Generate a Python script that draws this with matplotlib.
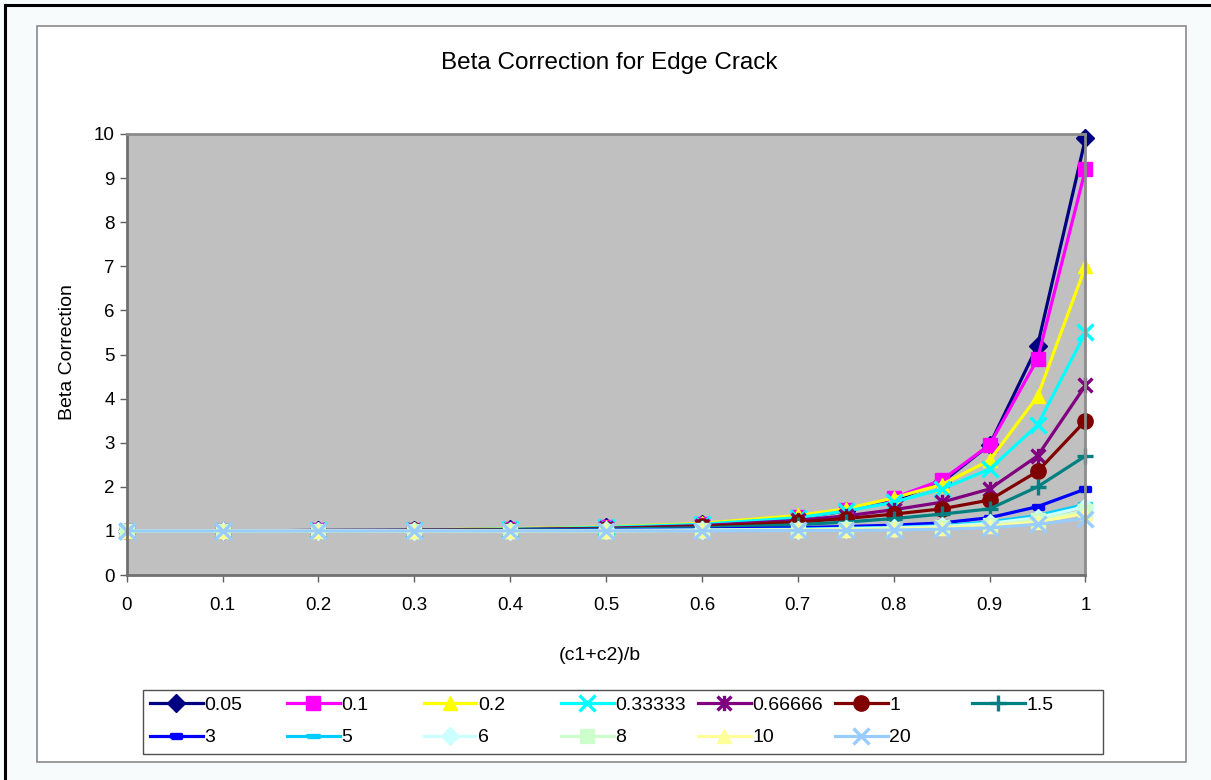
import matplotlib
matplotlib.use("Agg")
import matplotlib.pyplot as plt
from matplotlib.patches import Rectangle
from matplotlib.lines import Line2D
from matplotlib.path import Path
import numpy as np

plt.rcParams['font.family'] = ['Liberation Sans', 'DejaVu Sans']

# (c1+c2)/b
x = [0, 0.1, 0.2, 0.3, 0.4, 0.5, 0.6, 0.7, 0.75, 0.8, 0.85, 0.9, 0.95, 1.0]

labels = ['0.05', '0.1', '0.2', '0.33333', '0.66666', '1', '1.5',
          '3', '5', '6', '8', '10', '20']

b_005 = [1, 1, 1.01, 1.02, 1.04, 1.08, 1.15, 1.30, 1.45, 1.70, 2.10, 2.95, 5.20, 9.90]
b_01 = [1, 1, 1.01, 1.02, 1.04, 1.08, 1.16, 1.32, 1.48, 1.75, 2.15, 2.95, 4.90, 9.20]
b_02 = [1, 1, 1.01, 1.02, 1.05, 1.09, 1.17, 1.35, 1.50, 1.75, 2.05, 2.60, 4.05, 7.00]
b_033 = [1, 1, 1.01, 1.02, 1.04, 1.08, 1.15, 1.30, 1.45, 1.65, 1.95, 2.40, 3.40, 5.50]
b_066 = [1, 1, 1.01, 1.02, 1.03, 1.06, 1.12, 1.24, 1.34, 1.48, 1.65, 1.95, 2.70, 4.30]
b_1 = [1, 1, 1.00, 1.01, 1.03, 1.05, 1.10, 1.20, 1.28, 1.38, 1.50, 1.70, 2.35, 3.50]
b_15 = [1, 1, 1.00, 1.01, 1.02, 1.04, 1.07, 1.14, 1.20, 1.28, 1.38, 1.50, 2.00, 2.70]
b_3 = [1, 1, 1.00, 1.00, 1.01, 1.02, 1.04, 1.07, 1.10, 1.13, 1.18, 1.30, 1.55, 1.95]
b_5 = [1, 1, 1.00, 1.00, 1.00, 1.01, 1.02, 1.04, 1.06, 1.08, 1.12, 1.20, 1.35, 1.60]
b_6 = [1, 1, 1.00, 1.00, 1.00, 1.01, 1.02, 1.03, 1.05, 1.07, 1.10, 1.17, 1.30, 1.55]
b_8 = [1, 1, 1.00, 1.00, 1.00, 1.00, 1.01, 1.02, 1.04, 1.05, 1.08, 1.13, 1.25, 1.45]
b_10 = [1, 1, 1.00, 1.00, 1.00, 1.00, 1.01, 1.02, 1.03, 1.04, 1.07, 1.11, 1.20, 1.40]
b_20 = [1, 1, 1.00, 1.00, 1.00, 1.00, 1.00, 1.01, 1.01, 1.02, 1.04, 1.07, 1.15, 1.28]

series = [b_005, b_01, b_02, b_033, b_066, b_1, b_15,
          b_3, b_5, b_6, b_8, b_10, b_20]

colors = ['#000080', '#FF00FF', '#FFFF00', '#00FFFF', '#800080', '#800000', '#008080',
          '#0000FF', '#00CCFF', '#CCFFFF', '#CCFFCC', '#FFFF99', '#99CCFF']

# excel style markers
short_dash = [(-1, -0.45), (1, -0.45), (1, 0.45), (-1, 0.45), (-1, -0.45)]
long_dash = [(-1.4, -0.35), (1.4, -0.35), (1.4, 0.35), (-1.4, 0.35), (-1.4, -0.35)]
star = Path([(-1, -1), (1, 1), (-1, 1), (1, -1), (0, -1.1), (0, 1.1)],
            [Path.MOVETO, Path.LINETO] * 3)
markers = ['D', 's', '^', 'x', star, 'o', '+',
           short_dash, long_dash, 'D', 's', '^', 'x']
msizes = [9, 10, 10, 11, 11, 11, 12, 7, 8, 9, 10, 10, 11]

fig = plt.figure(figsize=(12.11, 7.8), dpi=100)
fig.patch.set_facecolor('#F7FBFB')

# chart area
fig.patches.append(Rectangle((37 / 1211, 1 - 762 / 780), (1186 - 37) / 1211, (762 - 26) / 780,
                             transform=fig.transFigure, facecolor='white',
                             edgecolor='#8A8A8A', linewidth=1.2, zorder=-5))
# black frame on the left and top
fig.add_artist(Line2D([5 / 1211, 5 / 1211], [0, 1 - 5 / 780], transform=fig.transFigure,
                      color='black', linewidth=2.2, zorder=-4))
fig.add_artist(Line2D([5 / 1211, 1], [1 - 5 / 780, 1 - 5 / 780], transform=fig.transFigure,
                      color='black', linewidth=2.2, zorder=-4))

ax = fig.add_axes([126.7 / 1211, 1 - 575 / 780, (1085.5 - 126.7) / 1211, (575 - 134) / 780])
ax.set_facecolor('#C0C0C0')

handles = []
for y, c, m, ms, lab in zip(series, colors, markers, msizes, labels):
    line_marker = m in ('x', '+') or isinstance(m, (tuple, list, Path))
    mew = 2.4 if line_marker else 1
    mfc = 'none' if m is star else c
    h, = ax.plot(x, y, color=c, marker=m, markersize=ms, markeredgewidth=mew,
                 markeredgecolor=c, markerfacecolor=mfc, linewidth=2.3,
                 label=lab, clip_on=False)
    handles.append(h)

ax.set_xlim(0, 1)
ax.set_ylim(0, 10)
ax.set_xticks(np.arange(0, 1.01, 0.1))
ax.set_xticklabels(['0', '0.1', '0.2', '0.3', '0.4', '0.5', '0.6', '0.7', '0.8', '0.9', '1'])
ax.set_yticks(range(0, 11))
ax.tick_params(direction='out', length=5, width=1, colors='#606060',
               labelcolor='black', labelsize=13.5)
ax.tick_params(axis='x', pad=11)
for s in ['left', 'bottom']:
    ax.spines[s].set_color('#707070')
    ax.spines[s].set_linewidth(2)
for s in ['top', 'right']:
    ax.spines[s].set_color('#8C8C8C')
    ax.spines[s].set_linewidth(2)

fig.text(609 / 1211, 1 - 63 / 780, 'Beta Correction for Edge Crack',
         ha='center', va='center', fontsize=17.5)
fig.text(600 / 1211, 1 - 655 / 780, '(c1+c2)/b', ha='center', va='center', fontsize=14)
fig.text(67 / 1211, 1 - 352 / 780, 'Beta Correction', ha='center', va='center',
         rotation=90, fontsize=14)

# legend: 7 evenly spaced columns, filled row by row
fig.patches.append(Rectangle((143 / 1211, 1 - 754 / 780), (1103 - 143) / 1211, (754 - 690) / 780,
                             transform=fig.transFigure, facecolor='white',
                             edgecolor='#505050', linewidth=1, zorder=1))
for j in range(7):
    idx = [j, j + 7] if j + 7 < len(handles) else [j]
    fig.legend([handles[i] for i in idx], [labels[i] for i in idx],
               loc='upper left', bbox_to_anchor=((150 + 137 * j) / 1211, 1 - 696 / 780),
               fontsize=14, frameon=False, handlelength=2.7, handletextpad=0.1,
               borderaxespad=0, borderpad=0, labelspacing=0.78)

fig.savefig('out.png', dpi=100, facecolor=fig.get_facecolor())
